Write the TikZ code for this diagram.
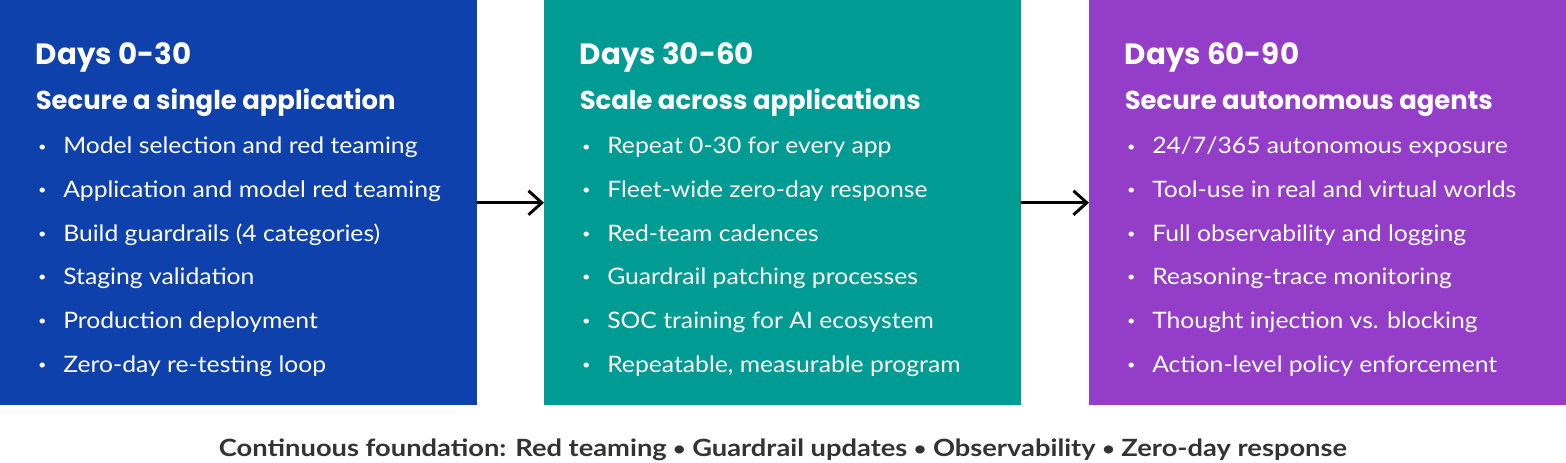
\documentclass[tikz,border=0pt]{standalone}
\usepackage{fontspec}
\setmainfont{Lato}[FakeStretch=1.09]
\newfontfamily\headfont{Poppins}
\newfontfamily\footfont{Lato}[FakeStretch=1.15]
\usepackage{xcolor}
\usepackage{tikz}
\usetikzlibrary{calc,arrows.meta,positioning}
\definecolor{phaseblue}{HTML}{0E41AB}
\definecolor{phaseteal}{HTML}{009B93}
\definecolor{phasepurple}{HTML}{933DC9}
\definecolor{footgray}{HTML}{333333}
\newcommand{\bul}{\makebox[19.5pt][l]{\hspace{0.6pt}\raisebox{2.2pt}{\fontsize{10}{10}\selectfont\textbullet}}}
\newcommand{\dotsep}{ \raisebox{1pt}{\fontsize{14}{14}\selectfont\textbullet} }

\begin{document}
\begin{tikzpicture}[x=0.75pt,y=-0.75pt,line cap=round,
  phase/.style={minimum width=357.75pt,minimum height=303.75pt,inner sep=0pt,anchor=north west},
  daytitle/.style={anchor=base west,inner sep=0pt,text=white,font=\headfont\bfseries\fontsize{22}{26}\selectfont},
  goal/.style={anchor=base west,inner sep=0pt,text=white,font=\headfont\bfseries\fontsize{19.4}{23}\selectfont},
  task/.style={anchor=base west,inner sep=0pt,text=white,font=\fontsize{17}{20}\selectfont},
  flow/.style={line width=2.2pt,-{Straight Barb[length=10pt,width=18pt]}}]
\useasboundingbox (0,0) rectangle (1566,463);
% phase boxes
\node[phase,fill=phaseblue] (b1) at (0,0) {};
\node[phase,fill=phaseteal] (b2) at (544,0) {};
\node[phase,fill=phasepurple] (b3) at (1089,0) {};
% arrows
\draw[flow] (b1) -- (b2);
\draw[flow] (b2) -- (b3);
% days 0-30
\node[daytitle] (t1) at ($(b1.north west)+(35.5,65)$) {Days 0-30};
\node[goal] (g1) at ($(b1.north west)+(35.5,110)$) {Secure a single application};
\node[task] (b1i1) at ($(b1.north west)+(37,154)$) {\bul Model selection and red teaming};
\node[task] (b1i2) at ($(b1.north west)+(37,197.6)$) {\bul Application and model red teaming};
\node[task] (b1i3) at ($(b1.north west)+(37,241.2)$) {\bul Build guardrails (4 categories)};
\node[task] (b1i4) at ($(b1.north west)+(37,284.8)$) {\bul Staging validation};
\node[task] (b1i5) at ($(b1.north west)+(37,328.4)$) {\bul Production deployment};
\node[task] (b1i6) at ($(b1.north west)+(37,372)$) {\bul Zero-day re-testing loop};
% days 30-60
\node[daytitle] (t2) at ($(b2.north west)+(35.5,65)$) {Days 30-60};
\node[goal] (g2) at ($(b2.north west)+(35.5,110)$) {Scale across applications};
\node[task] (b2i1) at ($(b2.north west)+(37,154)$) {\bul Repeat 0-30 for every app};
\node[task] (b2i2) at ($(b2.north west)+(37,197.6)$) {\bul Fleet-wide zero-day response};
\node[task] (b2i3) at ($(b2.north west)+(37,241.2)$) {\bul Red-team cadences};
\node[task] (b2i4) at ($(b2.north west)+(37,284.8)$) {\bul Guardrail patching processes};
\node[task] (b2i5) at ($(b2.north west)+(37,328.4)$) {\bul SOC training for AI ecosystem};
\node[task] (b2i6) at ($(b2.north west)+(37,372)$) {\bul Repeatable, measurable program};
% days 60-90
\node[daytitle] (t3) at ($(b3.north west)+(35.5,65)$) {Days 60-90};
\node[goal] (g3) at ($(b3.north west)+(35.5,110)$) {Secure autonomous agents};
\node[task] (b3i1) at ($(b3.north west)+(37,154)$) {\bul 24/7/365 autonomous exposure};
\node[task] (b3i2) at ($(b3.north west)+(37,197.6)$) {\bul Tool-use in real and virtual worlds};
\node[task] (b3i3) at ($(b3.north west)+(37,241.2)$) {\bul Full observability and logging};
\node[task] (b3i4) at ($(b3.north west)+(37,284.8)$) {\bul Reasoning-trace monitoring};
\node[task] (b3i5) at ($(b3.north west)+(37,328.4)$) {\bul Thought injection vs. blocking};
\node[task] (b3i6) at ($(b3.north west)+(37,372)$) {\bul Action-level policy enforcement};
% footer
\node[anchor=base,inner sep=0pt,text=footgray,font=\footfont\bfseries\fontsize{17.8}{20}\selectfont] (foot) at (783,456.7)
  {Continuous foundation: Red teaming\dotsep Guardrail updates\dotsep Observability\dotsep Zero-day response};
\end{tikzpicture}
\end{document}
